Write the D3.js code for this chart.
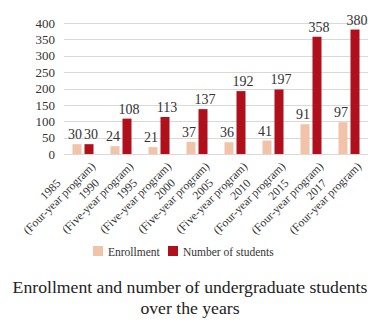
<!DOCTYPE html>
<html>
<head>
<meta charset="utf-8">
<script src="https://cdn.jsdelivr.net/npm/d3@7"></script>
<style>
  html, body { margin: 0; padding: 0; background: #fff; }
  svg { display: block; font-family: "Liberation Serif", "Times New Roman", serif; }
</style>
</head>
<body>
<svg id="chart" width="380" height="332"></svg>
<script>
// Undergraduate enrollment and total students per year
const years = ["1985", "1990", "1995", "2000", "2005", "2010", "2015", "2017"];
const programs = ["(Four-year program)", "(Five-year program)", "(Five-year program)", "(Five-year program)",
                  "(Five-year program)", "(Four-year program)", "(Four-year program)", "(Four-year program)"];
const enrollment = [30, 24, 21, 37, 36, 41, 91, 97];
const students = [30, 108, 113, 137, 192, 197, 358, 380];
const seriesNames = ["Enrollment", "Number of students"];
const yTicks = [0, 50, 100, 150, 200, 250, 300, 350, 400];
const titleLines = ["Enrollment and number of undergraduate students", "over the years"];

const colors = ["#f1c4aa", "#b0101c"];

const svg = d3.select("#chart");
const margin = { left: 64, right: 12, top: 23, bottom: 178 };
const W = 380, H = 332;
const plotBottom = 154;

const x = d3.scaleBand().domain(years).range([margin.left, W - margin.right]).paddingInner(0).paddingOuter(0);
const y = d3.scaleLinear().domain([0, 400]).range([plotBottom, margin.top]);

const barW = 9, barGap = 3;

// gridlines
svg.append("g")
  .selectAll("line")
  .data(yTicks)
  .join("line")
  .attr("x1", margin.left).attr("x2", W - margin.right)
  .attr("y1", d => Math.round(y(d)) + 0.5).attr("y2", d => Math.round(y(d)) + 0.5)
  .attr("stroke", "#d9d9d9").attr("stroke-width", 1);

// y axis labels
const yAxis = d3.axisLeft(y).tickValues(yTicks).tickSize(0).tickPadding(9);
const yg = svg.append("g").attr("transform", `translate(${margin.left},0)`).call(yAxis);
yg.select(".domain").remove();
yg.selectAll("text").attr("font-size", 13).attr("fill", "#333").attr("font-family", "Liberation Serif, serif");

const table = years.map((yr, i) => ({ yr, vals: [enrollment[i], students[i]] }));

const groups = svg.append("g").selectAll("g").data(table).join("g");

groups.each(function (d) {
  const g = d3.select(this);
  const cx = x(d.yr) + x.bandwidth() / 2;
  d.vals.forEach((v, k) => {
    const bx = k === 0 ? cx - barGap / 2 - barW : cx + barGap / 2;
    g.append("rect")
      .attr("x", bx).attr("width", barW)
      .attr("y", y(v)).attr("height", y(0) - y(v))
      .attr("fill", colors[k]);
    g.append("text")
      .attr("x", bx + barW / 2 + (k === 0 ? -2 : 2)).attr("y", y(v) - 5)
      .attr("text-anchor", "middle")
      .attr("font-size", 14).attr("fill", "#333")
      .text(v);
  });
});

// rotated two-line category labels
groups.each(function (d, i) {
  const cx = x(d.yr) + x.bandwidth() / 2;
  const lg = d3.select(this).append("g")
    .attr("transform", `translate(${cx + 13},${plotBottom + 13}) rotate(-45)`);
  const l2 = lg.append("text")
    .attr("text-anchor", "end").attr("font-size", 11.7).attr("fill", "#333")
    .text(programs[i]);
  const len = l2.node().getComputedTextLength();
  lg.append("text")
    .attr("x", -len / 2).attr("y", -12.5)
    .attr("text-anchor", "middle").attr("font-size", 11.7).attr("fill", "#333")
    .text(d.yr);
});

// legend
const legend = svg.append("g").attr("transform", "translate(93,246)");
const legX = [0, 75];
seriesNames.forEach((name, k) => {
  legend.append("rect").attr("x", legX[k]).attr("y", 0).attr("width", 10).attr("height", 10).attr("fill", colors[k]);
  legend.append("text").attr("x", legX[k] + 15).attr("y", 9.5)
    .attr("font-size", 11.5).attr("fill", "#333").text(name);
});

// title
svg.append("g").selectAll("text").data(titleLines).join("text")
  .attr("x", W / 2).attr("y", (d, i) => 293 + i * 21)
  .attr("text-anchor", "middle").attr("font-size", 17.7).attr("fill", "#222")
  .text(d => d);
</script>
</body>
</html>
